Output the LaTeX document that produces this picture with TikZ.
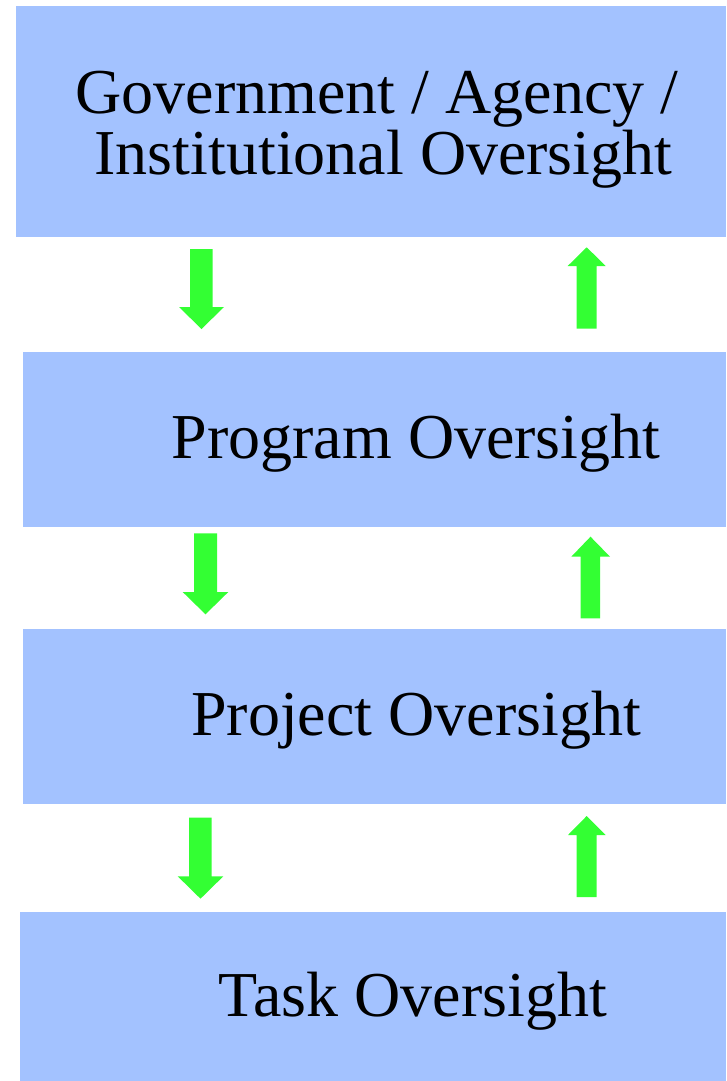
\documentclass[tikz,border=0pt]{standalone}
\usepackage{fontspec}
\setmainfont{Liberation Serif}
\definecolor{boxblue}{HTML}{A3C2FF}
\definecolor{arrowgreen}{HTML}{33FF33}
\begin{document}
\begin{tikzpicture}[x=1pt,y=-1pt,
  levelbox/.style={fill=boxblue,draw=none},
  leveltext/.style={anchor=base,inner sep=0pt,font=\fontsize{64}{74}\selectfont,text=black},
  blockarrow/.style={fill=arrowgreen,draw=none}]
\useasboundingbox (0,0) rectangle (726,1081);
% boxes
\fill[levelbox] (16,6) rectangle (726,236.5);
\fill[levelbox] (23,352) rectangle (726,526.5);
\fill[levelbox] (23,629) rectangle (726,803.5);
\fill[levelbox] (20,912) rectangle (726,1081);
% texts
\node[leveltext] (gov1) at (377,113) {Government / Agency /};
\node[leveltext] (gov2) at (383.5,174) {Institutional Oversight};
\node[leveltext] (prog) at (416,458) {Program Oversight};
\node[leveltext] (proj) at (416,735) {Project Oversight};
\node[leveltext] (task) at (413,1016) {Task Oversight};
% down arrows
\fill[blockarrow] (190,249) -- (212.7,249) -- (212.7,307) -- (224,307) -- (201.5,329) -- (179,307) -- (190,307) -- cycle;
\fill[blockarrow] (194,533.3) -- (217,533.3) -- (217,592) -- (228.3,592) -- (205.5,614.3) -- (182.7,592) -- (194,592) -- cycle;
\fill[blockarrow] (189,817.7) -- (211.7,817.7) -- (211.7,876.3) -- (223.3,876.3) -- (200.5,898.7) -- (177.7,876.3) -- (189,876.3) -- cycle;
% up arrows
\fill[blockarrow] (576.7,328.7) -- (596.7,328.7) -- (596.7,266) -- (605.7,266) -- (586.7,247.3) -- (567.7,266) -- (576.7,266) -- cycle;
\fill[blockarrow] (580.7,618.3) -- (600,618.3) -- (600,556.7) -- (610,556.7) -- (590.5,536.7) -- (571.3,556.7) -- (580.7,556.7) -- cycle;
\fill[blockarrow] (576.7,897) -- (596.7,897) -- (596.7,835) -- (605.7,835) -- (586.7,816) -- (568,835) -- (576.7,835) -- cycle;
\end{tikzpicture}
\end{document}
